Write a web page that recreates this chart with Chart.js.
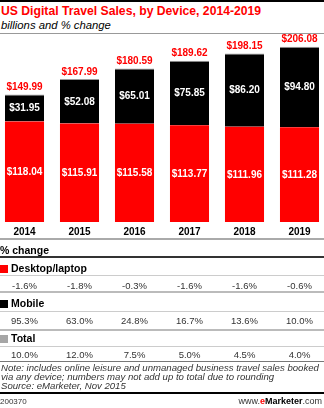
<!DOCTYPE html>
<html><head><meta charset="utf-8">
<script src="https://cdn.jsdelivr.net/npm/chart.js@4"></script>
<style>
body{margin:0;width:324px;height:408px;overflow:hidden;background:#fff;font-family:"Liberation Sans",Arial,sans-serif;position:relative}
.abs{position:absolute;white-space:nowrap}
.hl{position:absolute;left:0;width:324px}
.hdr{position:absolute;left:0;height:12px;line-height:12px;font-weight:bold;font-size:10.5px;color:#000;white-space:nowrap}
.sq{display:inline-block;width:8px;height:8px;margin-right:3px;vertical-align:-1px}
.val{position:absolute;width:55px;text-align:center;height:12px;line-height:12px;font-size:9.5px;color:#333}
.note{position:absolute;left:1px;font-style:italic;font-size:9.6px;color:#333;height:10px;line-height:10px;white-space:nowrap}
</style></head><body>
<div class="hl" style="top:0;height:2px;background:#000"></div>
<div class="abs" style="left:1px;top:4px;font-weight:bold;font-size:12.2px;color:#f00">US Digital Travel Sales, by Device, 2014-2019</div>
<div class="abs" style="left:1px;top:19px;font-style:italic;font-size:11.3px;color:#000">billions and % change</div>
<div class="hl" style="top:33px;height:1px;background:#999"></div>
<div class="abs" style="left:-3px;top:0;width:330px;height:240px"><canvas id="c"></canvas></div>
<div id="tbl"></div>
<script>
const years = ["2014","2015","2016","2017","2018","2019"];
const desktop = [118.04,115.91,115.58,113.77,111.96,111.28];
const mobile = [31.95,52.08,65.01,75.85,86.20,94.80];
const totals = [149.99,167.99,180.59,189.62,198.15,206.08];
const desktopChg = ["-1.6%","-1.8%","-0.3%","-1.6%","-1.6%","-0.6%"];
const mobileChg = ["95.3%","63.0%","24.8%","16.7%","13.6%","10.0%"];
const totalChg = ["10.0%","12.0%","7.5%","5.0%","4.5%","4.0%"];

const fmt = v => "$" + v.toFixed(2);
const FONT = '"Liberation Sans", Arial, sans-serif';

const labelPlugin = {
  id: 'lbls',
  afterDatasetsDraw(chart) {
    const ctx = chart.ctx;
    ctx.save();
    ctx.textAlign = 'center';
    ctx.textBaseline = 'middle';
    ctx.font = 'bold 10px ' + FONT;
    chart.data.datasets.forEach((ds, di) => {
      const meta = chart.getDatasetMeta(di);
      meta.data.forEach((el, i) => {
        ctx.fillStyle = '#fff';
        ctx.fillText(fmt(ds.data[i]), el.x, (el.y + el.base) / 2 + 0.5);
      });
    });
    const top = chart.getDatasetMeta(chart.data.datasets.length - 1);
    top.data.forEach((el, i) => {
      ctx.fillStyle = '#f00';
      ctx.fillText(fmt(totals[i]), el.x, el.y - 7);
    });
    ctx.restore();
  }
};

const chart = new Chart(document.getElementById('c'), {
  type: 'bar',
  data: {
    labels: years,
    datasets: [
      {label: 'Desktop/laptop', data: desktop, backgroundColor: '#ff0000', borderWidth: 0},
      {label: 'Mobile', data: mobile, backgroundColor: '#000000', borderColor: '#9a9a9a',
       borderWidth: {top: 1, left: 0, right: 0, bottom: 0}, borderSkipped: 'bottom'}
    ]
  },
  options: {
    responsive: true, maintainAspectRatio: false, animation: false,
    devicePixelRatio: 1,
    layout: {padding: 0},
    plugins: {legend: {display: false}, tooltip: {enabled: false}},
    datasets: {bar: {categoryPercentage: 1, barPercentage: 0.71}},
    scales: {
      x: {stacked: true, grid: {display: false, drawTicks: false}, border: {display: false},
          ticks: {color: '#000', font: {family: FONT, size: 10, weight: 'bold'}, padding: 4},
          afterFit: s => { s.height = 18; }},
      y: {stacked: true, display: false, min: 0, max: 261}
    }
  },
  plugins: [labelPlugin]
});

// table
const tbl = document.getElementById('tbl');
function add(html) { tbl.insertAdjacentHTML('beforeend', html); }
function line(y, h, c) { add(`<div class="hl" style="top:${y}px;height:${h}px;background:${c}"></div>`); }
function hdr(cy, text, col) {
  add(`<div class="hdr" style="top:${cy-6}px">${col ? `<span class="sq" style="background:${col}"></span>` : ''}${text}</div>`);
}
const xs = chart.scales.x;
function vals(cy, arr) {
  arr.forEach((t, i) => {
    const cx = xs.getPixelForValue(i) - 3;
    add(`<div class="val" style="left:${cx-27.5}px;top:${cy-6}px">${t}</div>`);
  });
}
line(238, 2, '#aaa');
hdr(249.5, '% change');
line(256, 2, '#333');
hdr(268, 'Desktop/laptop', '#ff0000');
line(275, 1, '#ccc');
vals(285.5, desktopChg);
line(291, 2, '#bbb');
hdr(303, 'Mobile', '#000');
line(311, 1, '#ccc');
vals(321, mobileChg);
line(329, 2, '#bbb');
hdr(338, 'Total', '#a6a6a6');
line(346, 1, '#ccc');
vals(354.5, totalChg);
line(361, 1, '#777');
add('<div class="note" style="top:363px">Note: includes online leisure and unmanaged business travel sales booked</div>');
add('<div class="note" style="top:372px">via any device; numbers may not add up to total due to rounding</div>');
add('<div class="note" style="top:381px">Source: eMarketer, Nov 2015</div>');
line(392, 2, '#000');
add('<div class="abs" style="left:0;top:397px;font-size:8px;color:#333">200370</div>');
add('<div class="abs" style="right:2px;top:396px;font-size:9px;color:#333">www.<span style="color:#f00;font-weight:bold">e</span><span style="color:#000;font-weight:bold">Marketer</span>.com</div>');
</script>
</body></html>
